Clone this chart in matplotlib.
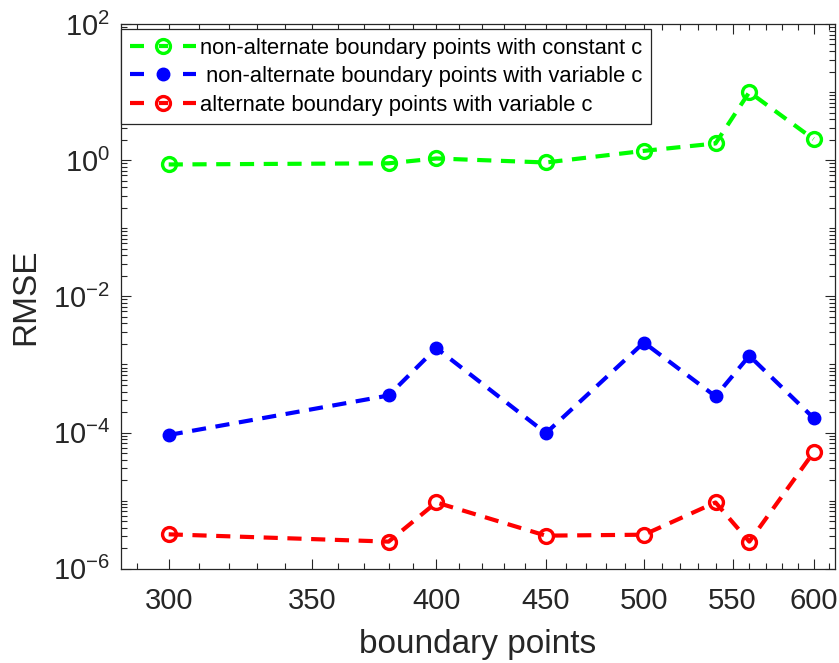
import numpy as np
import matplotlib.pyplot as plt
from matplotlib.lines import Line2D
from matplotlib.ticker import FixedLocator, FixedFormatter, NullFormatter, LogLocator

plt.rcParams['font.family'] = ['Liberation Sans', 'DejaVu Sans']
plt.rcParams['mathtext.fontset'] = 'custom'
plt.rcParams['mathtext.rm'] = 'Liberation Sans'
plt.rcParams['mathtext.it'] = 'Liberation Sans:italic'
plt.rcParams['mathtext.bf'] = 'Liberation Sans:bold'

# data
puntos = [300, 380, 400, 450, 500, 540, 560, 600]
rmse_const = [0.865, 0.90, 1.06, 0.925, 1.37, 1.76, 10.0, 2.04]
rmse_var = [9.2e-5, 3.5e-4, 1.74e-3, 9.8e-5, 2.1e-3, 3.4e-4, 1.34e-3, 1.64e-4]
rmse_alt = [3.2e-6, 2.5e-6, 9.4e-6, 3.06e-6, 3.16e-6, 9.4e-6, 2.5e-6, 5.1e-5]
xticks = [300, 350, 400, 450, 500, 550, 600]
yexp = [-6, -4, -2, 0, 2]
etiquetas = ['non-alternate boundary points with constant c',
             ' non-alternate boundary points with variable c',
             'alternate boundary points with variable c']

gris = '#262626'
verde, azul, rojo = (0, 1, 0), (0, 0, 1), (1, 0, 0)

fig = plt.figure(figsize=(8.39, 6.63), dpi=100)
ax = fig.add_axes([0.1442, 0.1422, 0.851, 0.8216])

lw = 3
guiones = (3.4, 2.3)
estilo_abierto = dict(ms=10, mew=2.4, mfc='none')
estilo_lleno = dict(ms=9, mew=1)
ax.plot(puntos, rmse_const, '--o', color=verde, lw=lw, dashes=guiones, **estilo_abierto)
ax.plot(puntos, rmse_var, '--o', color=azul, lw=lw, dashes=guiones, mfc=azul, **estilo_lleno)
ax.plot(puntos, rmse_alt, '--o', color=rojo, lw=lw, dashes=guiones, **estilo_abierto)

ax.set_xscale('log')
ax.set_yscale('log')
ax.set_xlim(285, 614)
ax.set_ylim(1e-6, 1e2)

ax.xaxis.set_major_locator(FixedLocator(xticks))
ax.xaxis.set_minor_locator(FixedLocator([v for v in range(290, 615, 10) if v not in xticks]))
ax.xaxis.set_major_formatter(FixedFormatter([str(v) for v in xticks]))
ax.xaxis.set_minor_formatter(NullFormatter())

ax.yaxis.set_major_locator(FixedLocator([10.0 ** e for e in yexp]))
ax.yaxis.set_major_formatter(FixedFormatter(['$\\mathregular{10^{%d}}$' % e for e in yexp]))
ax.yaxis.set_minor_locator(LogLocator(base=10, subs=np.arange(1, 10), numticks=50))
ax.yaxis.set_minor_formatter(NullFormatter())

ax.tick_params(which='both', direction='in', top=True, right=True, colors=gris,
               labelsize=21, width=0.8)
ax.tick_params(which='major', length=7)
ax.tick_params(which='minor', length=4)
ax.tick_params(axis='x', which='major', pad=13)
ax.tick_params(axis='y', which='major', pad=8)
for s in ax.spines.values():
    s.set_color(gris)
    s.set_linewidth(0.9)

ax.set_xlabel('boundary points', fontsize=24, color=gris, labelpad=10)
ax.set_ylabel('RMSE', fontsize=24, color=gris)
ax.yaxis.set_label_coords(-0.111, 0.5)

# legend handles: short dash, marker, short dash (MATLAB look)
guion_leyenda = (3.36, 3.6, 2.16, 3.6, 3.2, 20)
manejadores = [
    Line2D([], [], color=verde, lw=lw, dashes=guion_leyenda, marker='o', **estilo_abierto),
    Line2D([], [], color=azul, lw=lw, dashes=guion_leyenda, marker='o', mfc=azul, **estilo_lleno),
    Line2D([], [], color=rojo, lw=lw, dashes=guion_leyenda, marker='o', **estilo_abierto),
]
leg = ax.legend(manejadores, etiquetas, loc='upper left', bbox_to_anchor=(0.0, 0.991),
                borderaxespad=0, fontsize=15.8, handlelength=3.0, numpoints=1,
                fancybox=False, framealpha=1, edgecolor=gris, borderpad=0.4,
                labelspacing=0.34, handletextpad=0.2)
leg.get_frame().set_linewidth(0.9)

fig.savefig('out.png', dpi=100)
